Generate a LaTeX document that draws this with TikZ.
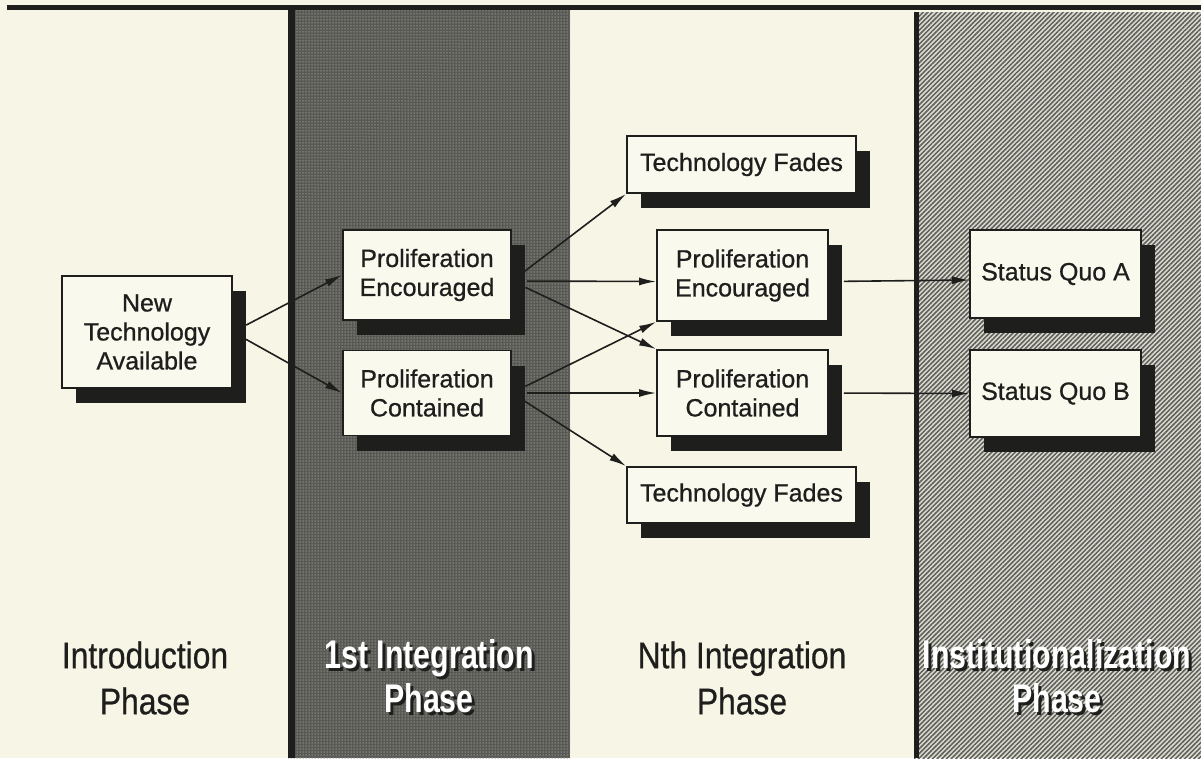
\documentclass[tikz,border=0pt]{standalone}
\usepackage{fontspec}
\setmainfont{Liberation Sans}
\newfontfamily\boxfont[FakeBold=0.7]{Liberation Sans}
\newfontfamily\phasefont[FakeStretch=0.86,FakeBold=0.6]{Liberation Sans}
\newfontfamily\phaseboldfont[FakeStretch=0.76]{Liberation Sans}
\usetikzlibrary{arrows.meta,shadows,patterns.meta}

\definecolor{paper}{RGB}{247,245,230}
\definecolor{boxfill}{RGB}{250,249,238}
\definecolor{ink}{RGB}{30,30,28}
\definecolor{noise}{RGB}{88,88,84}
\definecolor{speck}{RGB}{150,150,144}
\definecolor{hatchbg}{RGB}{218,218,208}
\definecolor{hatch}{RGB}{95,95,90}

% white lettering with a dark drop shadow
\newcommand\sunk[1]{\makebox[0pt][l]{\hspace{3pt}\raisebox{-3pt}{\color{ink}#1}}#1}

\tikzset{
    box/.style={draw=ink, line width=1.8pt, fill=boxfill, inner sep=0pt, align=center,
        text=ink, font=\boxfont\fontsize{25}{29}\selectfont,
        drop shadow={shadow xshift=14pt, shadow yshift=-15pt, fill=ink, opacity=1}},
    flow/.style={draw=ink, line width=1.6pt, -{Latex[length=17pt,width=8pt]}, shorten <=15pt},
    phase/.style={align=center, text=ink, font=\phasefont\fontsize{37}{46}\selectfont},
    phasewhite/.style={align=center, text=white, font=\phaseboldfont\bfseries\fontsize{40}{44}\selectfont}
}

\begin{document}
\begin{tikzpicture}[x=1pt, y=-1pt]
    \useasboundingbox (0,0) rectangle (1201,758);
    \fill[paper] (0,0) rectangle (1201,758);

    % phase panels
    \fill[noise] (288,10) rectangle (570,758);
    \fill[pattern={Dots[distance=3pt,radius=0.75pt]}, pattern color=speck] (288,10) rectangle (570,758);
    \fill[ink] (288,10) rectangle (295,758);
    \fill[hatchbg] (914,12) rectangle (1201,758);
    \fill[pattern={Lines[angle=45,distance=3.3pt,line width=1.5pt]}, pattern color=hatch] (914,12) rectangle (1201,758);
    \fill[ink] (914,12) rectangle (919,758);
    \draw[ink, line width=5pt] (7,7) -- (1201,7);

    % boxes
    \node[box, minimum width=170pt, minimum height=112pt] (newtech) at (147,332) {New\\Technology\\Available};
    \node[box, minimum width=168pt, minimum height=90pt] (enc1) at (427,275) {Proliferation\\Encouraged};
    \node[box, minimum width=168pt, minimum height=85pt] (con1) at (427,393) {Proliferation\\Contained};
    \node[box, minimum width=229pt, minimum height=57pt] (fadeT) at (741.5,164.5) {Technology Fades};
    \node[box, minimum width=171pt, minimum height=91pt] (enc2) at (742.5,275.5) {Proliferation\\Encouraged};
    \node[box, minimum width=171pt, minimum height=86pt] (con2) at (742.5,393) {Proliferation\\Contained};
    \node[box, minimum width=229pt, minimum height=56pt] (fadeB) at (741.5,495) {Technology Fades};
    \node[box, minimum width=171pt, minimum height=88pt] (sqA) at (1055.5,274) {Status Quo A};
    \node[box, minimum width=171pt, minimum height=87pt] (sqB) at (1055.5,393.5) {Status Quo B};

    % arrows
    \draw[flow] (newtech.east) -- (enc1.west);
    \draw[flow] (newtech.east) -- (con1.west);
    \draw[flow] ([yshift=-6pt]enc1.east) -- (fadeT.south west);
    \draw[flow] ([yshift=-6pt]enc1.east) -- ([yshift=-6pt]enc2.west);
    \draw[flow] ([yshift=-6pt]enc1.east) -- (con2.north west);
    \draw[flow] (con1.east) -- (enc2.south west);
    \draw[flow] (con1.east) -- (con2.west);
    \draw[flow] (con1.east) -- (fadeB.north west);
    \draw[flow] ([yshift=-6pt]enc2.east) -- ([yshift=-6pt]sqA.west);
    \draw[flow] (con2.east) -- (sqB.west);

    % phase labels
    \node[phase] (intro) at (145,678) {Introduction\\Phase};
    \node[phasewhite] (first) at (429,678) {\sunk{1st Integration}\\\sunk{Phase}};
    \node[phase] (nth) at (742,678) {Nth Integration\\Phase};
    \node[phasewhite] (inst) at (1057,678) {\sunk{Institutionalization}\\\sunk{Phase}};
\end{tikzpicture}
\end{document}
